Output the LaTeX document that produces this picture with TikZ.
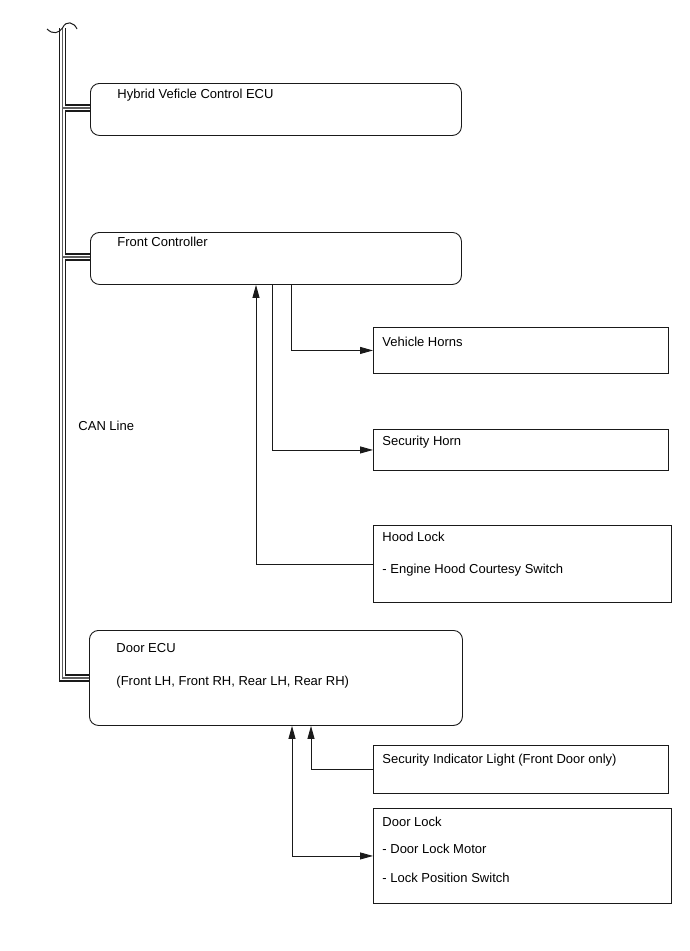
\documentclass[tikz,border=0pt]{standalone}
\usepackage{fontspec}
\setmainfont{Liberation Sans}
\usetikzlibrary{arrows.meta,calc,positioning}
\definecolor{ink}{HTML}{1A1A1A}
\definecolor{core}{HTML}{5E5E5E}

\begin{document}
\begin{tikzpicture}[x=1pt,y=-1pt,>={Triangle[length=13pt,width=7pt]},line width=0.9pt,
  ecu/.style={draw=ink,rounded corners=9pt,anchor=north west,inner sep=0pt},
  part/.style={draw=ink,anchor=north west,inner sep=0pt},
  txt/.style={anchor=base west,inner sep=0pt,font=\fontsize{13}{15}\selectfont,align=left},
  canbus/.style={draw=core,line width=1.1pt,preaction={draw=ink,line width=7.6pt},preaction={draw=white,line width=4.6pt}}]
\useasboundingbox (0,0) rectangle (690,951);
% control units
\node[ecu,minimum width=371pt,minimum height=52pt] (hv) at (90,83) {};
\node[ecu,minimum width=371pt,minimum height=52pt] (fc) at (90,232) {};
\node[ecu,minimum width=373pt,minimum height=95pt] (de) at (89,630) {};
% parts
\node[part,minimum width=295pt,minimum height=46pt] (vh) at (373,327) {};
\node[part,minimum width=295pt,minimum height=41pt] (sh) at (373,429) {};
\node[part,minimum width=298pt,minimum height=77pt] (hl) at (373,525) {};
\node[part,minimum width=295pt,minimum height=48pt] (si) at (373,745) {};
\node[part,minimum width=298pt,minimum height=95pt] (dl) at (373,808) {};
% texts (multi-line: anchored at the last baseline)
\node[txt] (hvt) at ([shift={(27,15)}]hv.north west) {Hybrid Veficle Control ECU};
\node[txt] (fct) at ([shift={(27,14)}]fc.north west) {Front Controller};
\node[txt] (det) at ([shift={(27,55)}]de.north west) {Door ECU\\[18pt](Front LH, Front RH, Rear LH, Rear RH)};
\node[txt] (vht) at ([shift={(9,19)}]vh.north west) {Vehicle Horns};
\node[txt] (sht) at ([shift={(9,16)}]sh.north west) {Security Horn};
\node[txt] (hlt) at ([shift={(9,48)}]hl.north west) {Hood Lock\\[17pt]- Engine Hood Courtesy Switch};
\node[txt] (sit) at ([shift={(9,18)}]si.north west) {Security Indicator Light (Front Door only)};
\node[txt] (dlt) at ([shift={(9,74)}]dl.north west) {Door Lock\\[12pt]- Door Lock Motor\\[14pt]- Lock Position Switch};
\node[txt] (can) at (78,430) {CAN Line};
% CAN line
\coordinate (top) at (62.5,28);
\coordinate (bend) at (62.5,678);
\draw[canbus] (top) -- (bend) -- (bend -| de.west)
  (top |- 0,108) -- (hv.west |- 0,108) (top |- 0,257) -- (fc.west |- 0,257);
\draw[ink,line width=1pt] (47,29) .. controls (53,35) and (59,33) .. (top) .. controls (66,20) and (74,22) .. (77,29);
% signals
\coordinate (a1) at (291,0); \coordinate (a2) at (272,0); \coordinate (a3) at (256,0);
\coordinate (b1) at (311,0); \coordinate (b2) at (292,0);
\draw[->,ink] (fc.south -| a1) |- (vh.west);
\draw[->,ink] (fc.south -| a2) |- (sh.west);
\draw[->,ink] (hl.west) -| (fc.south -| a3);
\draw[->,ink] (si.west) -| (de.south -| b1);
\draw[<->,ink] (de.south -| b2) |- (dl.west);
\end{tikzpicture}
\end{document}
